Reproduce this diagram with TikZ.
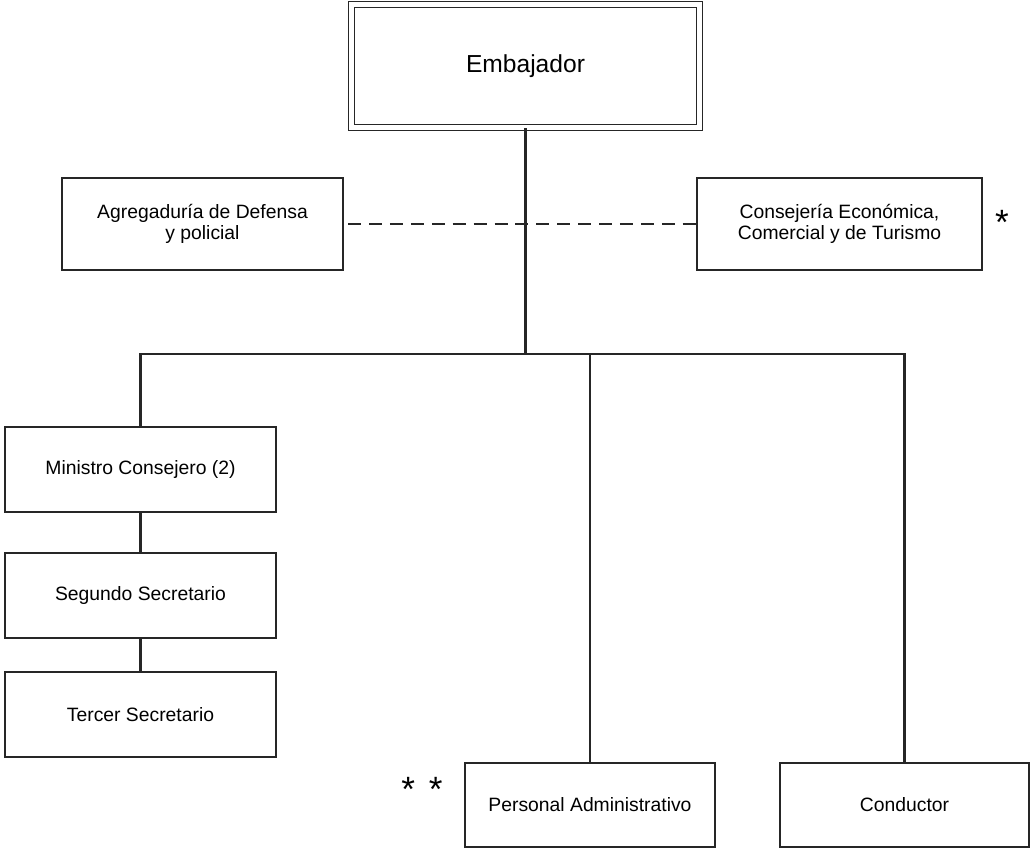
\documentclass[tikz,border=0pt]{standalone}
\usepackage{fontspec}
\setmainfont{Liberation Sans}
\usepackage{tikz}

\begin{document}
\begin{tikzpicture}[x=0.02cm, y=-0.02cm,
    box/.style={draw=black!85, line width=0.9pt, align=center, inner sep=0pt,
        font=\fontsize{11}{12}\selectfont},
    link/.style={draw=black!85, line width=1.2pt},
    astx/.style={inner sep=0pt, anchor=base, font=\fontsize{20}{20}\selectfont}]
    \useasboundingbox (0,0) rectangle (1032,850);

    \node[box, double, double distance=2.4pt, line width=0.7pt, minimum width=6.96cm, minimum height=2.46cm,
        font=\fontsize{14}{16}\selectfont] (emb) at (525.5, 66) {Embajador};

    \node[box, minimum width=5.62cm, minimum height=1.84cm] (agr) at (202.5, 224) {Agregaduría de Defensa\\y policial};
    \node[box, minimum width=5.70cm, minimum height=1.84cm] (cons) at (839.5, 224) {Consejería Económica,\\Comercial y de Turismo};

    \node[box, minimum width=5.42cm, minimum height=1.70cm] (mincon) at (140.5, 469.5) {Ministro Consejero (2)};
    \node[box, minimum width=5.42cm, minimum height=1.70cm] (segsec) at (140.5, 595.5) {Segundo Secretario};
    \node[box, minimum width=5.42cm, minimum height=1.70cm] (tersec) at (140.5, 714.5) {Tercer Secretario};

    \node[box, minimum width=5.00cm, minimum height=1.68cm] (persadm) at (590, 805) {Personal Administrativo};
    \node[box, minimum width=4.98cm, minimum height=1.68cm] (cond) at (904.5, 805) {Conductor};

    \node[astx] (s1) at (1002, 234) {*};
    \node[astx] (s2) at (422, 801) {*\hspace{0.4em}*};

    \coordinate (hub) at (emb.south |- 0, 354);
    \coordinate (jl) at (mincon.north |- hub);
    \coordinate (jr) at (cond.north |- hub);

    \draw[link] (emb.south) -- (hub); % trunk
    \draw[link] (mincon.north) -- (jl) -- (jr) -- (cond.north); % bar
    \draw[link] (persadm.north) -- (persadm.north |- hub);
    \draw[link] (mincon) -- (segsec) -- (tersec); % left column
    \draw[link, dash pattern=on 7.4pt off 4.5pt, shorten <=2.5pt] (agr.east) -- (cons.west); % dashed

\end{tikzpicture}
\end{document}
